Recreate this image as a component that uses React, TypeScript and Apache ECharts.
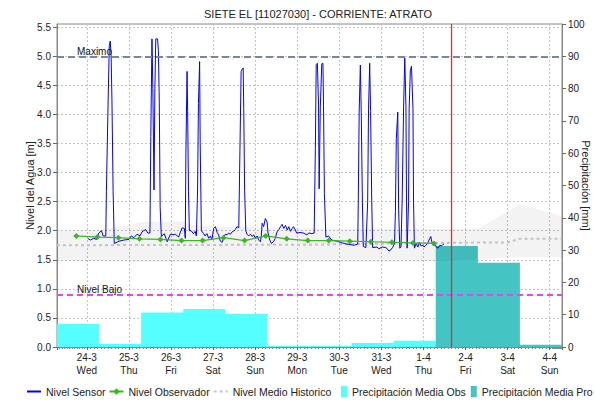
import React, { useEffect, useRef } from "react";
import * as echarts from "echarts";

const TITLE = "SIETE EL [11027030] - CORRIENTE: ATRATO";
const NIVEL_MAXIMO = 5.0;
const NIVEL_BAJO = 0.9;
const LEFT_MAX = 5.5556; // 5.0 m aligns with 90 mm
const NOW = "2021-04-01 16:00";
const X_MIN = "2021-03-23 07:00";
const X_MAX = "2021-04-04 07:00";
const WEEKDAYS = ["Sun", "Mon", "Tue", "Wed", "Thu", "Fri", "Sat"];

// precipitation day boundaries (07:00 to 07:00)
const precipBounds = [
  "2021-03-23 07:00", "2021-03-24 07:00", "2021-03-25 07:00", "2021-03-26 07:00",
  "2021-03-27 07:00", "2021-03-28 07:00", "2021-03-29 07:00", "2021-03-30 07:00",
  "2021-03-31 07:00", "2021-04-01 07:00", "2021-04-02 07:00", "2021-04-03 07:00",
  "2021-04-04 07:00",
];
const precipObs = [7.1, 0.9, 10.7, 11.8, 10.2, 0.4, 0.4, 1.2, 1.9];
const precipPro = [31.3, 26.1, 0.7];

// historical band
const bandTimes = [
  "2021-03-23 07:00", "2021-03-24 07:00", "2021-03-25 00:00", "2021-03-25 07:00",
  "2021-03-26 07:00", "2021-03-26 14:00", "2021-03-27 07:00", "2021-03-28 07:00",
  "2021-03-29 07:00", "2021-03-30 07:00", "2021-03-31 07:00", "2021-04-01 07:00",
  "2021-04-02 07:00", "2021-04-03 07:00", "2021-04-04 07:00",
];
const bandUpper = [2.0, 2.02, 2.1, 2.15, 2.16, 2.08, 2.07, 2.06, 2.04, 2.03, 2.03, 2.03, 2.03, 2.46, 2.25];
const bandLower = [1.47, 1.47, 1.46, 1.46, 1.46, 1.46, 1.46, 1.46, 1.46, 1.46, 1.46, 1.47, 1.5, 1.55, 1.55];

// Nivel Medio Historico
const medioTimes = ["2021-03-23 07:00", "2021-03-29 07:00", "2021-04-01 07:00", "2021-04-03 00:00", "2021-04-03 07:00", "2021-04-04 07:00"];
const medioValues = [1.75, 1.76, 1.79, 1.8, 1.86, 1.86];

// Nivel Observador
const observTimes = [
  "2021-03-23 18:00", "2021-03-24 06:00", "2021-03-24 18:00", "2021-03-25 06:00",
  "2021-03-25 18:00", "2021-03-26 06:00", "2021-03-26 18:00", "2021-03-27 06:00",
  "2021-03-27 18:00", "2021-03-28 06:00", "2021-03-28 18:00", "2021-03-29 06:00",
  "2021-03-29 18:00", "2021-03-30 06:00", "2021-03-30 18:00", "2021-03-31 06:00",
  "2021-03-31 18:00", "2021-04-01 06:00",
];
const observValues = [1.91, 1.89, 1.88, 1.86, 1.85, 1.83, 1.83, 1.88, 1.83, 1.91, 1.86, 1.83, 1.83, 1.82, 1.81, 1.8, 1.79, 1.78];

// Nivel Sensor
const sensor: [string, number][] = [
  ["2021-03-24 00:30", 1.87], ["2021-03-24 02:00", 1.84], ["2021-03-24 04:00", 1.87], ["2021-03-24 05:30", 1.85],
  ["2021-03-24 06:50", 1.96], ["2021-03-24 08:20", 2.0], ["2021-03-24 09:20", 1.91], ["2021-03-24 10:50", 1.91],
  ["2021-03-24 11:10", 2.67], ["2021-03-24 12:10", 4.25], ["2021-03-24 12:50", 5.19], ["2021-03-24 13:20", 5.26],
  ["2021-03-24 13:50", 5.05], ["2021-03-24 14:20", 4.25], ["2021-03-24 15:00", 2.67], ["2021-03-24 15:40", 1.78],
  ["2021-03-24 18:20", 1.82], ["2021-03-24 21:10", 1.84], ["2021-03-25 00:00", 1.85], ["2021-03-25 01:20", 1.91],
  ["2021-03-25 02:50", 1.88], ["2021-03-25 04:40", 1.94], ["2021-03-25 06:20", 1.91], ["2021-03-25 07:30", 1.98],
  ["2021-03-25 09:30", 2.02], ["2021-03-25 10:50", 1.96], ["2021-03-25 12:00", 1.96], ["2021-03-25 12:30", 3.62],
  ["2021-03-25 13:10", 5.3], ["2021-03-25 13:40", 4.45], ["2021-03-25 14:20", 2.7], ["2021-03-25 14:50", 4.45],
  ["2021-03-25 15:20", 5.3], ["2021-03-25 16:20", 5.3], ["2021-03-25 16:50", 5.1], ["2021-03-25 17:20", 4.2],
  ["2021-03-25 17:50", 2.4], ["2021-03-25 18:30", 1.9], ["2021-03-25 20:10", 1.95], ["2021-03-25 21:50", 1.81],
  ["2021-03-25 23:40", 1.94], ["2021-03-26 01:40", 1.93], ["2021-03-26 02:30", 1.94], ["2021-03-26 04:20", 1.89],
  ["2021-03-26 06:20", 2.05], ["2021-03-26 07:40", 2.04], ["2021-03-26 08:10", 1.87], ["2021-03-26 08:30", 3.3],
  ["2021-03-26 09:10", 4.74], ["2021-03-26 09:30", 4.05], ["2021-03-26 10:00", 2.67], ["2021-03-26 10:30", 2.0],
  ["2021-03-26 11:30", 2.0], ["2021-03-26 12:50", 1.95], ["2021-03-26 13:50", 1.99], ["2021-03-26 14:30", 1.91],
  ["2021-03-26 15:10", 2.7], ["2021-03-26 15:40", 4.19], ["2021-03-26 16:20", 4.91], ["2021-03-26 16:40", 3.5],
  ["2021-03-26 17:20", 2.0], ["2021-03-26 18:40", 1.95], ["2021-03-26 19:30", 1.91], ["2021-03-26 20:30", 1.95],
  ["2021-03-26 21:30", 1.87], ["2021-03-26 22:30", 1.91], ["2021-03-26 23:20", 1.84], ["2021-03-27 00:20", 2.04],
  ["2021-03-27 01:20", 2.07], ["2021-03-27 02:20", 1.97], ["2021-03-27 03:10", 1.93], ["2021-03-27 04:10", 1.82],
  ["2021-03-27 05:10", 1.8], ["2021-03-27 06:00", 1.87], ["2021-03-27 07:00", 1.94], ["2021-03-27 08:00", 1.93],
  ["2021-03-27 08:50", 1.96], ["2021-03-27 09:50", 1.94], ["2021-03-27 10:50", 1.98], ["2021-03-27 11:40", 1.99],
  ["2021-03-27 12:40", 2.02], ["2021-03-27 13:40", 2.07], ["2021-03-27 14:40", 2.05], ["2021-03-27 15:20", 3.39],
  ["2021-03-27 16:00", 4.74], ["2021-03-27 16:30", 4.77], ["2021-03-27 17:10", 4.8], ["2021-03-27 17:30", 4.1],
  ["2021-03-27 18:00", 2.69], ["2021-03-27 18:40", 2.0], ["2021-03-27 19:20", 1.94], ["2021-03-27 20:20", 1.91],
  ["2021-03-27 21:20", 1.94], ["2021-03-27 22:20", 1.9], ["2021-03-27 23:10", 1.93], ["2021-03-28 00:10", 1.87],
  ["2021-03-28 01:10", 1.91], ["2021-03-28 02:00", 1.84], ["2021-03-28 03:00", 1.81], ["2021-03-28 03:30", 1.91],
  ["2021-03-28 04:00", 2.13], ["2021-03-28 04:50", 2.07], ["2021-03-28 05:50", 2.21], ["2021-03-28 06:50", 2.15],
  ["2021-03-28 07:20", 1.96], ["2021-03-28 08:20", 1.84], ["2021-03-28 09:20", 1.78], ["2021-03-28 10:40", 1.82],
  ["2021-03-28 11:30", 1.87], ["2021-03-28 12:30", 1.98], ["2021-03-28 13:30", 2.02], ["2021-03-28 14:30", 2.07],
  ["2021-03-28 15:20", 2.11], ["2021-03-28 16:20", 2.04], ["2021-03-28 17:20", 2.09], ["2021-03-28 18:20", 2.01],
  ["2021-03-28 19:10", 2.07], ["2021-03-28 20:10", 1.99], ["2021-03-28 21:10", 2.04], ["2021-03-28 21:50", 2.07],
  ["2021-03-28 22:50", 2.02], ["2021-03-28 23:40", 1.96], ["2021-03-29 01:40", 1.97], ["2021-03-29 03:30", 1.96],
  ["2021-03-29 05:30", 1.93], ["2021-03-29 06:40", 1.96], ["2021-03-29 08:20", 1.95], ["2021-03-29 09:40", 1.96],
  ["2021-03-29 10:20", 3.41], ["2021-03-29 10:50", 4.86], ["2021-03-29 11:30", 4.88], ["2021-03-29 12:10", 4.16],
  ["2021-03-29 12:30", 2.72], ["2021-03-29 13:10", 4.13], ["2021-03-29 14:00", 4.87], ["2021-03-29 14:40", 4.88],
  ["2021-03-29 15:00", 4.16], ["2021-03-29 15:30", 2.64], ["2021-03-29 16:20", 1.89], ["2021-03-29 17:50", 1.91],
  ["2021-03-29 19:40", 1.84], ["2021-03-29 22:40", 1.82], ["2021-03-30 00:30", 1.8], ["2021-03-30 04:20", 1.77],
  ["2021-03-30 08:20", 1.75], ["2021-03-30 10:30", 1.77], ["2021-03-30 10:50", 2.53], ["2021-03-30 11:20", 4.04],
  ["2021-03-30 12:00", 4.85], ["2021-03-30 12:30", 4.04], ["2021-03-30 13:10", 2.51], ["2021-03-30 13:40", 1.73],
  ["2021-03-30 15:10", 1.71], ["2021-03-30 16:10", 2.5], ["2021-03-30 16:40", 4.09], ["2021-03-30 17:20", 4.88],
  ["2021-03-30 17:50", 4.05], ["2021-03-30 18:30", 2.5], ["2021-03-30 19:00", 1.71], ["2021-03-30 21:30", 1.72],
  ["2021-03-30 22:30", 1.69], ["2021-03-31 00:30", 1.72], ["2021-03-31 02:30", 1.71], ["2021-03-31 03:20", 1.69],
  ["2021-03-31 04:20", 1.65], ["2021-03-31 05:20", 1.67], ["2021-03-31 06:20", 1.71], ["2021-03-31 07:10", 1.76],
  ["2021-03-31 07:30", 1.8], ["2021-03-31 08:00", 2.33], ["2021-03-31 08:30", 3.58], ["2021-03-31 09:20", 4.04],
  ["2021-03-31 09:50", 2.36], ["2021-03-31 10:30", 1.7], ["2021-03-31 11:10", 1.72], ["2021-03-31 11:50", 2.51],
  ["2021-03-31 12:40", 4.13], ["2021-03-31 13:20", 4.97], ["2021-03-31 14:00", 4.13], ["2021-03-31 14:20", 2.5],
  ["2021-03-31 14:40", 1.7], ["2021-03-31 15:30", 2.5], ["2021-03-31 15:50", 4.1], ["2021-03-31 16:30", 4.75],
  ["2021-03-31 17:10", 4.83], ["2021-03-31 18:00", 4.1], ["2021-03-31 18:20", 2.5], ["2021-03-31 18:50", 1.7],
  ["2021-03-31 19:50", 1.78], ["2021-03-31 20:50", 1.72], ["2021-03-31 21:40", 1.8], ["2021-03-31 22:40", 1.74],
  ["2021-03-31 23:40", 1.75], ["2021-04-01 00:20", 1.72], ["2021-04-01 01:20", 1.75], ["2021-04-01 02:20", 1.78],
  ["2021-04-01 03:10", 1.84], ["2021-04-01 04:10", 1.9], ["2021-04-01 04:40", 1.82], ["2021-04-01 05:30", 1.75],
  ["2021-04-01 06:30", 1.78], ["2021-04-01 07:20", 1.72], ["2021-04-01 08:20", 1.7], ["2021-04-01 09:20", 1.75],
  ["2021-04-01 10:20", 1.74], ["2021-04-01 11:00", 1.76], ["2021-04-01 11:40", 1.77],
];

const FONT = "'Liberation Sans', Arial, sans-serif";
const DAY = 24 * 3600 * 1000;

const toMs = (s: string) => {
  const [d, t] = s.split(" ");
  const [Y, M, D] = d.split("-").map(Number);
  const [h, m] = t.split(":").map(Number);
  return new Date(Y, M - 1, D, h, m).getTime();
};

const stepData = (bounds: string[], vals: number[]) => {
  const pts: [number, number][] = vals.map((v, i) => [toMs(bounds[i]), v]);
  pts.push([toMs(bounds[vals.length]), vals[vals.length - 1]]);
  return pts;
};

export default function App() {
  const ref = useRef<HTMLDivElement>(null);
  useEffect(() => {
    if (!ref.current) return;
    const chart = echarts.init(ref.current, undefined, { renderer: "svg" });
    const proBounds = precipBounds.slice(precipObs.length);
    const gridLine = { show: true, lineStyle: { color: "#C4C4C4", type: [2, 2] as number[], width: 1 } };
    const hiddenSymbol = { opacity: 0 };

    const option: any = {
      animation: false,
      textStyle: { fontFamily: FONT },
      title: {
        text: TITLE,
        left: 199,
        top: 3,
        textStyle: { fontSize: 11, fontWeight: "normal", color: "#222", fontFamily: FONT },
      },
      grid: {
        left: 57, right: 33, top: 24, bottom: 58,
        containLabel: false,
        outerBoundsMode: "none",
        show: true, borderColor: "#888", borderWidth: 1, backgroundColor: "transparent",
      },
      legend: [
        {
          data: [
            { name: "Nivel Sensor", itemStyle: hiddenSymbol },
            { name: "Nivel Observador" },
            { name: "Nivel Medio Historico", itemStyle: hiddenSymbol },
          ],
          left: 26,
          top: 386,
          width: 330,
          padding: 0,
          itemWidth: 14,
          itemHeight: 8,
          itemGap: 3,
          textStyle: { fontSize: 10.5, color: "#222", fontFamily: FONT },
          selectedMode: false,
        },
        {
          data: [
            { name: "Precipitación Media Obs", icon: "rect" },
            { name: "Precipitación Media Pro", icon: "rect" },
          ],
          left: 341,
          top: 386,
          width: 300,
          padding: 0,
          itemWidth: 6,
          itemHeight: 11,
          itemGap: 5,
          textStyle: { fontSize: 10.5, color: "#222", fontFamily: FONT },
          selectedMode: false,
        },
      ],
      xAxis: {
        type: "time",
        min: toMs(X_MIN),
        max: toMs(X_MAX),
        minInterval: DAY,
        maxInterval: DAY,
        splitNumber: 12,
        axisLine: { show: true, lineStyle: { color: "#888" } },
        axisTick: { show: true, length: 3, lineStyle: { color: "#666" } },
        minorTick: { show: true, splitNumber: 12, length: 2, lineStyle: { color: "#888" } },
        axisLabel: {
          fontSize: 10,
          color: "#222",
          lineHeight: 13,
          margin: 4,
          showMinLabel: false,
          showMaxLabel: false,
          hideOverlap: false,
          formatter: (v: number) => {
            const d = new Date(v);
            if (d.getHours() !== 0 || d.getMinutes() !== 0) return "";
            return `${d.getDate()}-${d.getMonth() + 1}\n${WEEKDAYS[d.getDay()]}`;
          },
        },
        splitLine: gridLine,
      },
      yAxis: [
        {
          type: "value",
          min: 0,
          max: LEFT_MAX,
          interval: 0.5,
          name: "Nivel del Agua [m]",
          nameLocation: "middle",
          nameGap: 22,
          nameMoveOverlap: false,
          nameTextStyle: { fontSize: 11, color: "#222", fontFamily: FONT },
          axisLine: { show: true, lineStyle: { color: "#888" } },
          axisTick: { show: true, length: 4, lineStyle: { color: "#666" } },
          axisLabel: {
            fontSize: 10,
            color: "#222",
            margin: 6,
            showMaxLabel: false,
            formatter: (v: number) => v.toFixed(1),
          },
          splitLine: gridLine,
        },
        {
          type: "value",
          min: 0,
          max: 100,
          interval: 10,
          name: "Precipitación [mm]",
          nameLocation: "middle",
          nameRotate: -90,
          nameGap: 18,
          nameMoveOverlap: false,
          nameTextStyle: { fontSize: 11, color: "#222", fontFamily: FONT },
          axisLine: { show: true, lineStyle: { color: "#888" } },
          axisTick: { show: true, length: 4, lineStyle: { color: "#666" } },
          axisLabel: { fontSize: 10, color: "#222", margin: 6 },
          splitLine: { show: false },
        },
      ],
      series: [
        {
          name: "Precipitación Media Obs",
          type: "line",
          yAxisIndex: 1,
          step: "end",
          symbol: "none",
          data: stepData(precipBounds, precipObs),
          color: "#55FFFF",
          itemStyle: { color: "#55FFFF" },
          lineStyle: { width: 0, color: "#55FFFF" },
          areaStyle: { color: "#55FFFF", opacity: 1 },
          emphasis: { disabled: true },
          silent: true,
          z: 1,
        },
        {
          name: "Precipitación Media Pro",
          type: "line",
          yAxisIndex: 1,
          step: "end",
          symbol: "none",
          data: stepData(proBounds, precipPro),
          color: "#45C4C4",
          itemStyle: { color: "#45C4C4" },
          lineStyle: { width: 0, color: "#45C4C4" },
          areaStyle: { color: "#45C4C4", opacity: 1 },
          emphasis: { disabled: true },
          silent: true,
          z: 1,
        },
        {
          name: "bandLower",
          type: "line",
          stack: "hist",
          symbol: "none",
          data: bandTimes.map((t, i) => [toMs(t), bandLower[i]]),
          lineStyle: { opacity: 0, width: 0 },
          silent: true,
          z: 2,
        },
        {
          name: "bandUpper",
          type: "line",
          stack: "hist",
          symbol: "none",
          data: bandTimes.map((t, i) => [toMs(t), +(bandUpper[i] - bandLower[i]).toFixed(3)]),
          lineStyle: { opacity: 0, width: 0 },
          areaStyle: { color: "rgba(0,0,0,0.065)" },
          silent: true,
          z: 2,
        },
        {
          name: "Nivel Medio Historico",
          type: "line",
          symbol: "none",
          data: medioTimes.map((t, i) => [toMs(t), medioValues[i]]),
          color: "#C4C4C4",
          lineStyle: { color: "#C4C4C4", width: 2, type: [3, 3] },
          silent: true,
          z: 3,
        },
        {
          name: "Nivel Sensor",
          type: "line",
          symbol: "none",
          data: sensor.map(([t, v]) => [toMs(t), v]),
          color: "#0000FF",
          lineStyle: { color: "#0000FF", width: 1 },
          silent: true,
          z: 4,
          markLine: {
            silent: true,
            symbol: "none",
            animation: false,
            data: [
              {
                yAxis: NIVEL_MAXIMO,
                lineStyle: { color: "#7A84A6", width: 2, type: [7, 4] },
                label: { show: true, formatter: "Maximo", position: "insideStartTop", distance: [20, 0], color: "#111", fontSize: 10, fontFamily: FONT },
              },
              {
                yAxis: NIVEL_BAJO,
                lineStyle: { color: "#F040F0", width: 2, type: [6, 4] },
                label: { show: true, formatter: "Nivel Bajo", position: "insideStartTop", distance: [20, 0], color: "#111", fontSize: 10, fontFamily: FONT },
              },
            ],
          },
        },
        {
          name: "Nivel Observador",
          type: "line",
          symbol: "diamond",
          symbolSize: 6,
          data: observTimes.map((t, i) => [toMs(t), observValues[i]]),
          color: "#3CB521",
          itemStyle: { color: "#3CB521" },
          lineStyle: { color: "#3CB521", width: 1.2 },
          silent: true,
          z: 5,
        },
        {
          name: "Ahora",
          type: "line",
          symbol: "none",
          data: [[toMs(NOW), 0], [toMs(NOW), LEFT_MAX]],
          color: "#FF2020",
          lineStyle: { color: "#FF2020", width: 1.3 },
          silent: true,
          z: 6,
        },
      ],
    };
    chart.setOption(option);
    return () => chart.dispose();
  }, []);
  return (
    <div
      ref={ref}
      style={{ position: "fixed", left: 0, top: 0, width: 595, height: 405, background: "#fff" }}
    />
  );
}
